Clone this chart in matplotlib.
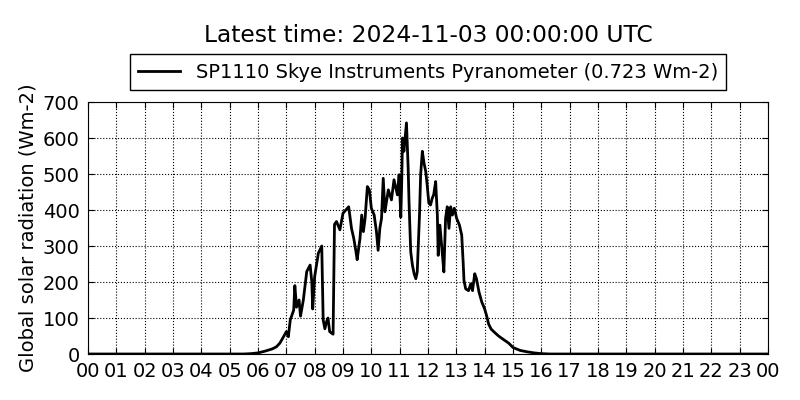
import numpy as np
import pandas as pd
import matplotlib
matplotlib.use("Agg")
import matplotlib.pyplot as plt
import matplotlib.dates as mdates

# Day of 2024-11-02 (hour of day, Wm-2)
day_start = "2024-11-02 00:00"
hour_of_day = [
    0.0, 5.5, 5.75, 6.0, 6.25, 6.5, 6.65, 6.77, 6.88, 7.0, 7.07, 7.14, 7.26, 7.3,
    7.36, 7.45, 7.5, 7.6, 7.72, 7.84, 7.9, 7.93, 8.0, 8.13, 8.25, 8.3, 8.36, 8.42,
    8.47, 8.53, 8.65, 8.7, 8.77, 8.89, 9.0, 9.2, 9.3, 9.38, 9.45, 9.5, 9.56, 9.6,
    9.66, 9.72, 9.78, 9.86, 9.93, 10.0, 10.1, 10.18, 10.24, 10.3, 10.36, 10.42,
    10.48, 10.6, 10.71, 10.8, 10.88, 10.92, 10.98, 11.04, 11.07, 11.1, 11.15,
    11.24, 11.3, 11.33, 11.39, 11.45, 11.51, 11.57, 11.62, 11.7, 11.74, 11.8,
    11.86, 11.92, 11.97, 12.03, 12.09, 12.15, 12.2, 12.27, 12.33, 12.36, 12.42,
    12.5, 12.56, 12.62, 12.68, 12.74, 12.8, 12.86, 12.93, 13.01, 13.11, 13.19,
    13.24, 13.27, 13.33, 13.43, 13.51, 13.57, 13.65, 13.71, 13.8, 13.9, 14.0,
    14.07, 14.14, 14.23, 14.35, 14.49, 14.65, 14.85, 15.0, 15.25, 15.5, 15.75,
    16.0, 16.3, 23.99,
]
radiation = [
    0, 0, 1, 3, 8, 14, 20, 30, 45, 62, 48, 95, 122, 190,
    130, 150, 105, 150, 229, 247, 200, 125, 215, 280, 300, 95, 70, 90,
    100, 62, 55, 360, 368, 345, 391, 409, 349, 321, 288, 262, 298, 321,
    386, 340, 377, 465, 456, 405, 386, 340, 288, 349, 377, 488,
    395, 456, 428, 484, 456, 442, 498, 380, 470, 600, 563,
    642, 516, 423, 284, 247, 223, 209, 228, 386, 498, 563,
    530, 507, 470, 419, 414, 433, 442, 479, 386, 274, 358,
    284, 228, 377, 409, 349, 409, 386, 405, 377, 358, 330,
    256, 204, 181, 176, 195, 176, 223, 209, 172, 144, 125,
    106, 83, 69, 60, 50, 41, 30, 18, 10, 6, 3,
    1, 0, 0,
]
y_ticks = [0, 100, 200, 300, 400, 500, 600, 700]

title = "Latest time: 2024-11-03 00:00:00 UTC"
series_label = "SP1110 Skye Instruments Pyranometer (0.723 Wm-2)"

times = pd.Timestamp(day_start) + pd.to_timedelta(hour_of_day, unit="h")

fig = plt.figure(figsize=(8, 4), dpi=100, facecolor="white")
ax = fig.add_axes([0.11, 0.115, 0.85, 0.63])

ax.plot(times, radiation, color="black", linewidth=2, label=series_label)

ax.set_xlim(pd.Timestamp(day_start), pd.Timestamp(day_start) + pd.Timedelta(hours=24))
ax.set_ylim(0, 700)
ax.set_yticks(y_ticks)
ax.xaxis.set_major_locator(mdates.HourLocator(interval=1))
ax.xaxis.set_major_formatter(mdates.DateFormatter("%H"))

ax.tick_params(direction="in", top=True, right=True, labelsize=14, length=4, pad=6)
ax.grid(True, color="black", linestyle=":", linewidth=0.8)
ax.set_ylabel("Global solar radiation (Wm-2)", fontsize=14)

ax.legend(loc="lower center", bbox_to_anchor=(0.5, 1.01),
          fancybox=False, edgecolor="black", framealpha=1,
          handlelength=2.2, borderpad=0.42, prop={"size": 14})

# title is centred over the axes, not the figure
fig.text(0.535, 0.912, title, ha="center", va="center", fontsize=16.8)

fig.savefig("out.png", dpi=100, facecolor="white")
